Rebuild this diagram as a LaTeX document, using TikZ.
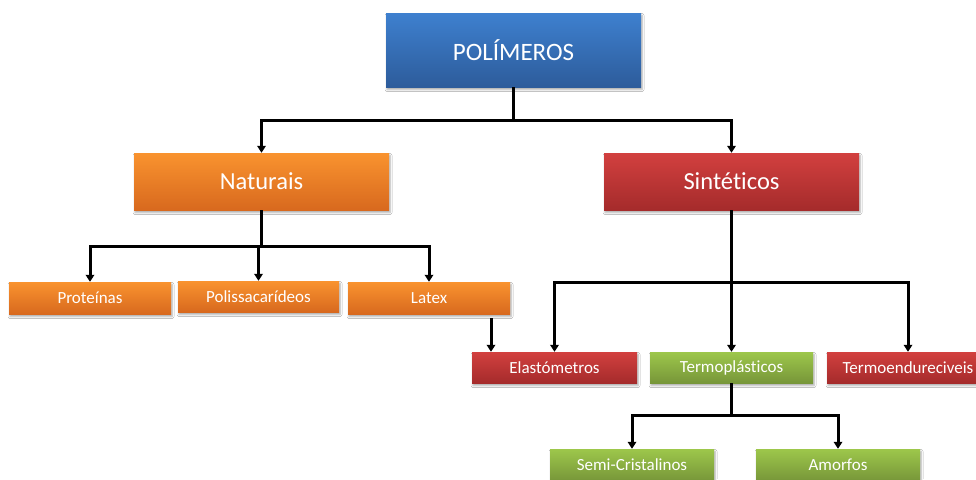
\documentclass[tikz,border=0pt]{standalone}
\usepackage{fontspec}
\setmainfont[Ligatures={NoCommon,NoContextual,NoRequired},Contextuals=NoAlternate]{Carlito}
\usetikzlibrary{arrows.meta,shadows.blur}

\definecolor{bluetop}{HTML}{3E80CF}
\definecolor{bluebot}{HTML}{2D5C9B}
\definecolor{orgtop}{HTML}{F9932F}
\definecolor{orgbot}{HTML}{D8691E}
\definecolor{redtop}{HTML}{D2403F}
\definecolor{redbot}{HTML}{A52B2B}
\definecolor{grntop}{HTML}{9DC74B}
\definecolor{grnbot}{HTML}{779639}

\begin{document}
\begin{tikzpicture}[x=1pt,y=-1pt,
  box/.style={rectangle, inner sep=0pt, text=white,
    blur shadow={shadow xshift=1pt, shadow yshift=-2.5pt,
                 shadow blur radius=2pt, shadow opacity=35}},
  bluebox/.style={box, top color=bluetop, bottom color=bluebot},
  orgbox/.style={box, top color=orgtop, bottom color=orgbot},
  redbox/.style={box, top color=redtop, bottom color=redbot},
  grnbox/.style={box, top color=grntop, bottom color=grnbot},
  big/.style={font=\fontsize{24.5}{28}\selectfont},
  small/.style={font=\fontsize{17}{20}\selectfont},
  conn/.style={line width=3pt, draw=black},
  arr/.style={conn, -{Triangle[width=8.5pt,length=7pt]}},
]
\useasboundingbox[fill=white] (0,0) rectangle (976,479);

% boxes
\node[bluebox, minimum width=255pt, minimum height=74pt,
      font=\fontsize{25}{30}\selectfont] (pol) at (513.5,50) {POLÍMEROS};

\node[orgbox, big, minimum width=255pt, minimum height=57pt] (nat) at (261.5,181.5) {Naturais};
\node[redbox, big, minimum width=255pt, minimum height=57pt] (sin) at (731.5,181.5) {Sintéticos};

\node[orgbox, small, minimum width=162pt, minimum height=32pt] (pro) at (90,298) {Proteínas};
\node[orgbox, small, minimum width=161pt, minimum height=31pt] (pls) at (258.5,296.5) {Polissacarídeos};
\node[orgbox, small, minimum width=162pt, minimum height=32pt] (lat) at (429,298) {Latex};

\node[redbox, small, minimum width=165pt, minimum height=31pt] (ela) at (554.5,367.5) {Elastómetros};
\node[grnbox, small, minimum width=163pt, minimum height=31pt] (tpl) at (731.5,367.5) {Termoplásticos};
\node[redbox, small, minimum width=162pt, minimum height=31pt] (ted) at (908,367.5) {Termoendureciveis};

\node[grnbox, small, minimum width=164pt, minimum height=32pt] (sem) at (632,465) {Semi-Cristalinos};
\node[grnbox, small, minimum width=164pt, minimum height=32pt] (amo) at (838,465) {Amorfos};

% junction points
\coordinate (j0) at (513.5,120);
\coordinate (j1) at (261.5,246);
\coordinate (j2) at (731.5,282);
\coordinate (j3) at (731.5,415);
\coordinate (lx) at (491,318);

% connectors
\draw[conn] (pol.south) -- (j0);
\draw[arr] (j0) -| (nat.north);
\draw[arr] (j0) -| (sin.north);

\draw[conn] (nat.south) -- (j1);
\draw[arr] (j1) -| (pro.north);
\draw[arr] (j1) -| (pls.north);
\draw[arr] (j1) -| (lat.north);

\draw[arr] (lx) -- (lx |- ela.north);

\draw[arr] (sin.south) -- (tpl.north);
\draw[arr] (j2) -| (ela.north);
\draw[arr] (j2) -| (ted.north);

\draw[conn] (tpl.south) -- (j3);
\draw[arr] (j3) -| (sem.north);
\draw[arr] (j3) -| (amo.north);
\end{tikzpicture}
\end{document}
